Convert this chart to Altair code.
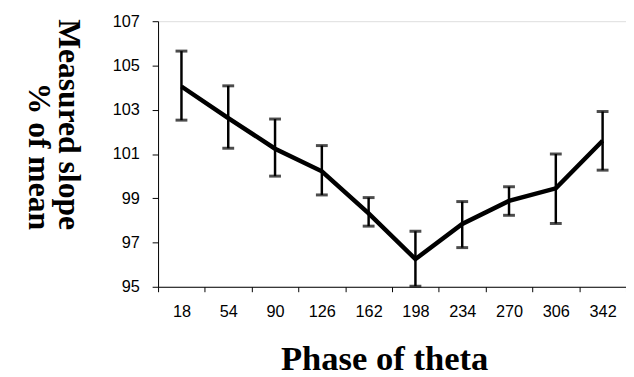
import altair as alt
import pandas as pd

phase = ["18", "54", "90", "126", "162", "198", "234", "270", "306", "342"]
mean = [104.05, 102.62, 101.24, 100.22, 98.32, 96.25, 97.84, 98.88, 99.45, 101.6]
lower = [102.53, 101.26, 100.0, 99.15, 97.74, 95.03, 96.77, 98.23, 97.86, 100.27]
upper = [105.65, 104.08, 102.58, 101.38, 99.03, 97.51, 98.85, 99.52, 101.0, 102.92]
y_ticks = [95, 97, 99, 101, 103, 105, 107]

df = pd.DataFrame({"phase": phase, "mean": mean, "lower": lower, "upper": upper})

x = alt.X(
    "phase:O",
    sort=phase,
    scale=alt.Scale(type="band", paddingInner=0, paddingOuter=0),
    axis=alt.Axis(
        title="Phase of theta",
        tickBand="extent",
        labelAngle=0,
        labelFont="Liberation Sans",
        labelFontSize=16.5,
        labelColor="black",
        labelPadding=12,
        titleFont="Liberation Serif",
        titleFontWeight="bold",
        titleFontSize=35,
        titleColor="black",
        titleX=229,
        titleY=84,
        titleBaseline="alphabetic",
        domainColor="black",
        tickColor="black",
        tickSize=5,
        grid=False,
    ),
)

yscale = alt.Scale(domain=[95, 107], nice=False, zero=False)

y = alt.Y(
    "mean:Q",
    scale=yscale,
    axis=alt.Axis(
        title=["Measured slope", "% of mean"],
        values=y_ticks,
        labelFont="Liberation Sans",
        labelFontSize=16.5,
        labelColor="black",
        labelPadding=13,
        titleFont="Liberation Serif",
        titleFontWeight="bold",
        titleFontSize=32,
        titleLineHeight=30,
        titleColor="black",
        titleAngle=90,
        titleAlign="right",
        titleBaseline="top",
        titleX=-76,
        titleY=211,
        domainColor="black",
        tickColor="black",
        tickSize=6,
        grid=False,
    ),
)

base = alt.Chart(df)

line = base.mark_line(color="black", strokeWidth=4.5).encode(x=x, y=y)

rules = base.mark_rule(color="black", strokeWidth=2.5).encode(
    x=x, y=alt.Y("lower:Q", scale=yscale), y2="upper:Q"
)

caps_lo = base.mark_tick(color="black", thickness=3, size=12, orient="horizontal").encode(
    x=x, y=alt.Y("lower:Q", scale=yscale)
)
caps_hi = base.mark_tick(color="black", thickness=3, size=12, orient="horizontal").encode(
    x=x, y=alt.Y("upper:Q", scale=yscale)
)

chart = (
    alt.layer(line, rules, caps_lo, caps_hi)
    .properties(
        width=474,
        height=269,
        autosize=alt.AutoSizeParams(type="none"),
        padding={"left": 152, "top": 11, "right": 0, "bottom": 89},
    )
    .configure_view(stroke=None)
    .configure(background="white")
)

chart.save("out.html", embed_options={"renderer": "svg", "actions": False})
